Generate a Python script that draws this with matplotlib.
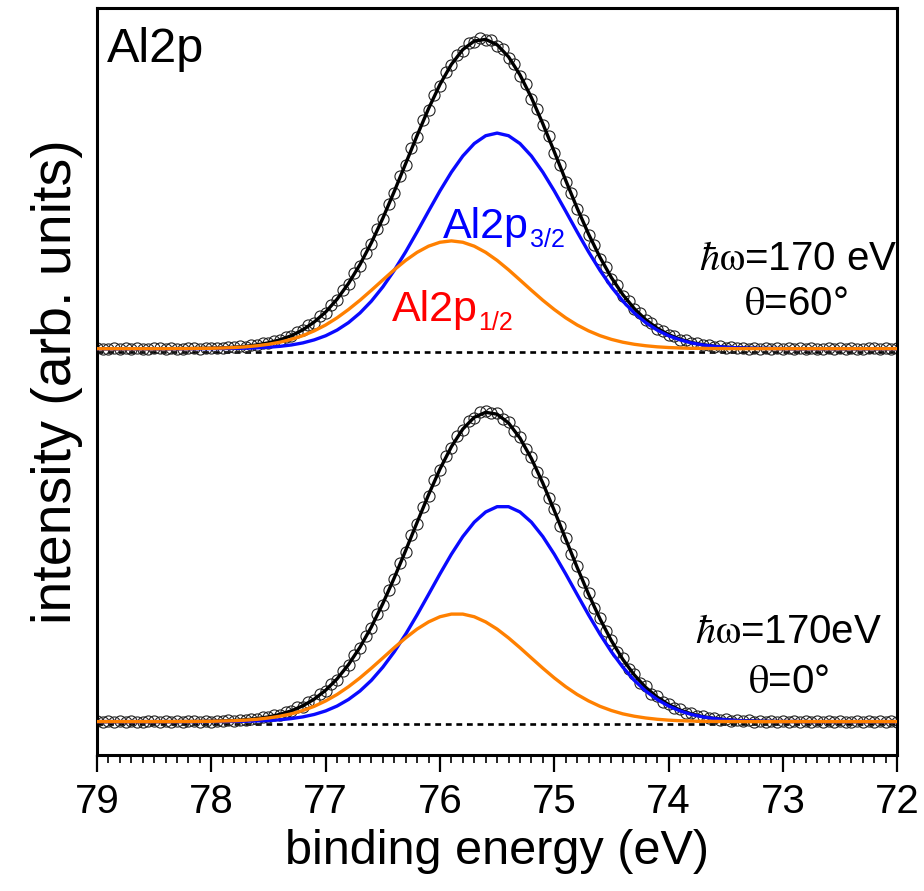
import numpy as np
import matplotlib
matplotlib.use("Agg")
import matplotlib.pyplot as plt
from matplotlib.ticker import MultipleLocator

plt.rcParams['font.family'] = ['Liberation Sans', 'DejaVu Sans']
plt.rcParams['mathtext.fontset'] = 'stix'

# binding energy grids (eV): fit curves every 0.1 eV, measured points every 0.05 eV
e_fit = np.round(np.arange(79.0, 71.95, -0.1), 2)
e_data = np.round(np.arange(79.0, 71.975, -0.05), 2)

# --- theta = 60 deg spectrum (upper trace) ---
top_p32 = [3.0, 3.0, 3.0, 3.0, 3.0, 3.0, 3.0,
           3.0, 3.0, 3.0, 3.1, 3.2, 3.3, 3.5, 3.9, 4.5, 5.4, 6.8, 8.9, 12.0, 16.2,
           22.0, 29.6, 39.4, 51.5, 66.0, 82.9, 101.8, 122.2, 143.3, 164.0,
           183.1, 199.6, 212.3, 220.3, 223.0, 220.3, 212.3, 199.6, 183.1, 164.0,
           143.3, 122.2, 101.8, 82.9, 66.0, 51.5, 39.4, 29.6, 22.0, 16.2,
           12.0, 8.9, 6.8, 5.4, 4.5, 3.9, 3.5, 3.3, 3.2, 3.1,
           3.0, 3.0, 3.0, 3.0, 3.0, 3.0, 3.0, 3.0, 3.0, 3.0]
top_p12 = [3.0, 3.0, 3.0, 3.0, 3.0, 3.0, 3.0,
           3.1, 3.1, 3.3, 3.4, 3.7, 4.2, 4.9, 6.0, 7.5, 9.6, 12.5, 16.3, 21.2, 27.2,
           34.5, 43.0, 52.4, 62.6, 73.1, 83.5, 93.1, 101.3, 107.6, 111.6,
           113.0, 111.6, 107.6, 101.3, 93.1, 83.5, 73.1, 62.6, 52.4, 43.0,
           34.5, 27.2, 21.2, 16.3, 12.5, 9.6, 7.5, 6.0, 4.9, 4.2,
           3.7, 3.4, 3.3, 3.1, 3.1, 3.0,
           3.0, 3.0, 3.0, 3.0, 3.0, 3.0, 3.0, 3.0, 3.0, 3.0, 3.0, 3.0, 3.0, 3.0]
top_fit = [3.0, 3.0, 3.0, 3.0, 3.0, 3.0, 3.0,
           3.1, 3.1, 3.3, 3.5, 3.9, 4.5, 5.4, 6.9, 9.0, 12.0, 16.3, 22.2, 30.2, 40.4,
           53.5, 69.6, 88.8, 111.1, 136.1, 163.4, 191.9, 220.5, 247.9, 272.6,
           293.1, 308.2, 316.9, 318.6, 313.1, 300.8, 282.4, 259.2, 232.5, 204.0,
           174.8, 146.4, 120.0, 96.2, 75.5, 58.1, 43.9, 32.6, 23.9, 17.4,
           12.7, 9.3, 7.1, 5.5, 4.6, 3.9, 3.5, 3.3, 3.2, 3.1,
           3.0, 3.0, 3.0, 3.0, 3.0, 3.0, 3.0, 3.0, 3.0, 3.0]
top_data = [3.5, 2.4, 3.1, 4.0, 2.8, 3.3, 2.2, 3.6, 3.0, 2.5, 3.9, 3.2,
            2.7, 3.8, 3.0, 2.6, 3.7, 3.4, 2.9, 4.1, 3.2,
            4.2, 3.5, 4.6, 4.3, 5.4, 5.0, 6.5, 6.4, 8.3, 8.6,
            11.2, 11.5, 15.1, 15.8, 20.3, 21.6, 27.0, 29.6, 36.2, 39.8,
            47.8, 52.6, 62.5, 68.9, 80.1, 87.6, 101.0, 110.2, 124.9, 135.3,
            151.0, 162.2, 179.1, 190.8, 207.9, 219.4, 236.0, 246.7, 262.1, 271.5,
            285.0, 292.0, 302.8, 307.1, 315.0, 316.0, 320.1, 317.5, 318.0, 312.0,
            309.0, 299.6, 293.7, 281.1, 272.9, 258.0, 247.8, 231.3, 219.9, 202.8,
            190.7, 173.5, 161.9, 145.2, 134.4, 118.9, 109.1, 95.0, 86.8, 74.6,
            67.6, 57.2, 51.8, 43.0, 39.0, 31.9, 29.1, 23.2, 21.3, 16.8,
            15.6, 12.0, 11.7, 8.7, 8.8, 6.5, 6.9, 5.0, 5.6, 4.1,
            4.7, 3.4, 4.2, 3.0, 3.9, 2.8, 3.7, 2.6, 3.5, 2.9,
            3.6, 2.5, 3.3, 2.8, 3.9, 2.4, 3.1, 3.7, 2.7, 3.4,
            2.6, 3.8, 3.0, 2.5, 3.5, 3.2, 2.7, 3.9, 2.9, 3.3]

# --- theta = 0 deg spectrum (lower trace) ---
bot_p32 = [2.5, 2.5, 2.5, 2.5, 2.5, 2.5, 2.5, 2.5, 2.5, 2.5,
           2.6, 2.6, 2.7, 2.9, 3.2, 3.6, 4.4, 5.6, 7.3, 9.8, 13.4,
           18.4, 25.1, 33.7, 44.6, 58.0, 73.7, 91.7, 111.4, 132.2, 153.2,
           173.3, 191.3, 206.0, 216.4, 221.8, 221.8, 216.4, 206.0, 191.3, 173.3,
           153.2, 132.2, 111.4, 91.7, 73.7, 58.0, 44.6, 33.7, 25.1, 18.4,
           13.4, 9.8, 7.3, 5.6, 4.4, 3.6, 3.2, 2.9, 2.7, 2.6, 2.6,
           2.5, 2.5, 2.5, 2.5, 2.5, 2.5, 2.5, 2.5, 2.5]
bot_p12 = [2.5, 2.5, 2.5, 2.5, 2.5, 2.5, 2.5,
           2.6, 2.6, 2.7, 2.8, 3.1, 3.4, 4.0, 4.9, 6.2, 8.0, 10.4, 13.8, 18.1, 23.6,
           30.2, 38.1, 47.1, 57.0, 67.4, 77.9, 87.9, 96.9, 104.2, 109.5,
           112.2, 112.2, 109.5, 104.2, 96.9, 87.9, 77.9, 67.4, 57.0, 47.1,
           38.1, 30.2, 23.6, 18.1, 13.8, 10.4, 8.0, 6.2, 4.9, 4.0,
           3.4, 3.1, 2.8, 2.7, 2.6, 2.6,
           2.5, 2.5, 2.5, 2.5, 2.5, 2.5, 2.5, 2.5, 2.5, 2.5, 2.5, 2.5, 2.5, 2.5]
bot_fit = [2.5, 2.5, 2.5, 2.5, 2.5, 2.5, 2.5,
           2.6, 2.6, 2.7, 2.9, 3.2, 3.6, 4.4, 5.6, 7.3, 9.9, 13.5, 18.6, 25.4, 34.5,
           46.1, 60.7, 78.3, 99.1, 122.9, 149.1, 177.1, 205.8, 233.9, 260.2,
           283.0, 301.0, 313.0, 318.1, 316.2, 307.2, 291.8, 270.9, 245.8, 217.9,
           188.8, 159.9, 132.5, 107.3, 85.0, 65.9, 50.1, 37.4, 27.5, 19.9,
           14.3, 10.4, 7.6, 5.8, 4.5, 3.7, 3.2, 2.9, 2.7, 2.6, 2.6,
           2.5, 2.5, 2.5, 2.5, 2.5, 2.5, 2.5, 2.5, 2.5]
bot_data = [2.9, 2.1, 3.3, 2.4, 2.8, 1.9, 3.1, 2.6, 2.2, 3.4, 2.7, 2.0, 3.0,
            2.3, 3.2, 2.1, 2.9, 3.3, 2.4, 3.4, 2.6, 3.6,
            2.7, 4.0, 3.1, 4.6, 4.0, 5.6, 5.1, 7.2, 6.8,
            9.3, 9.2, 12.4, 12.9, 16.9, 17.8, 22.9, 24.6, 30.9, 33.8,
            41.2, 45.3, 54.4, 59.8, 70.5, 77.2, 89.8, 98.0, 112.1, 121.8,
            137.0, 148.0, 164.4, 175.9, 193.0, 204.5, 221.6, 232.7, 249.0, 259.0,
            273.6, 281.8, 294.0, 300.0, 309.1, 312.1, 317.9, 319.6, 317.0, 317.5,
            311.4, 308.6, 299.0, 293.2, 280.7, 272.3, 257.5, 247.1, 230.8, 219.2,
            202.2, 190.0, 173.1, 161.2, 144.7, 133.8, 118.3, 108.6, 94.5, 86.2,
            73.9, 67.0, 56.5, 51.2, 42.3, 38.5, 31.1, 28.4, 22.5, 20.8,
            16.1, 15.0, 11.5, 11.1, 8.2, 8.3, 6.0, 6.4, 4.4, 5.0,
            3.6, 4.3, 2.9, 3.8, 2.5, 3.4, 2.3, 3.2, 2.2, 3.1, 2.1,
            3.0, 2.2, 2.9, 2.0, 3.3, 2.4, 2.7, 1.9, 3.2, 2.6,
            2.1, 3.0, 2.3, 2.8, 2.0, 3.1, 2.4, 2.9, 2.2]

offset = 380.0   # vertical shift of the upper trace

blue = '#0a0aff'
orange = '#ff8000'

fig = plt.figure(figsize=(9.24, 8.91), dpi=100)
ax = fig.add_axes([0.105, 0.1526, 0.866, 0.8384])

for shift, data, fit, p32, p12 in [(offset, top_data, top_fit, top_p32, top_p12),
                                   (0.0, bot_data, bot_fit, bot_p32, bot_p12)]:
    ax.axhline(shift, color='black', lw=1.9, ls=(0, (2.2, 1.8)), zorder=1)
    ax.plot(e_data, np.array(data) + shift, 'o', mfc='none', mec='#222222',
            ms=8.0, mew=0.8, zorder=2)
    ax.plot(e_fit, np.array(fit) + shift, color='black', lw=2.4, zorder=3)
    ax.plot(e_fit, np.array(p32) + shift, color=blue, lw=2.4, zorder=4)
    ax.plot(e_fit, np.array(p12) + shift, color=orange, lw=2.4, zorder=5)

ax.set_xlim(79, 72)
ax.set_ylim(-31.6, 730.6)
ax.xaxis.set_major_locator(MultipleLocator(1))
ax.xaxis.set_minor_locator(MultipleLocator(0.1))
ax.set_yticks([])
ax.tick_params(axis='x', which='major', direction='out', length=12, width=1.6,
               labelsize=29, pad=8, top=False)
ax.tick_params(axis='x', which='minor', direction='out', length=6, width=1.2, top=False)
for sp in ax.spines.values():
    sp.set_linewidth(2.2)

ax.set_xlabel('binding energy (eV)', fontsize=35, labelpad=6)
ax.set_ylabel('intensity (arb. units)', fontsize=40, labelpad=10)

ax.text(0.0125, 0.928, 'Al2p', transform=ax.transAxes, fontsize=35,
        ha='left', va='baseline')

t32 = ax.text(75.97, 496, 'Al2p', color='#0000ff', fontsize=31, ha='left', va='baseline')
ax.annotate('3/2', xy=(1, 0), xycoords=t32, xytext=(0.5, 0), textcoords='offset points',
            color='#0000ff', fontsize=18, ha='left', va='baseline')
t12 = ax.text(76.42, 411, 'Al2p', color='#ff0000', fontsize=31, ha='left', va='baseline')
ax.annotate('1/2', xy=(1, 0), xycoords=t12, xytext=(0.5, 0), textcoords='offset points',
            color='#ff0000', fontsize=18, ha='left', va='baseline')

ax.text(72.87, 463, r'$\hbar\mathrm{\omega}$=170 eV', fontsize=29, ha='center', va='baseline')
ax.text(72.89, 417, r'$\mathrm{\theta}$=60°', fontsize=29, ha='center', va='baseline')
ax.text(72.95, 82.7, r'$\hbar\mathrm{\omega}$=170eV', fontsize=29, ha='center', va='baseline')
ax.text(72.95, 31.6, r'$\mathrm{\theta}$=0°', fontsize=29, ha='center', va='baseline')

fig.savefig('out.png', dpi=100)
